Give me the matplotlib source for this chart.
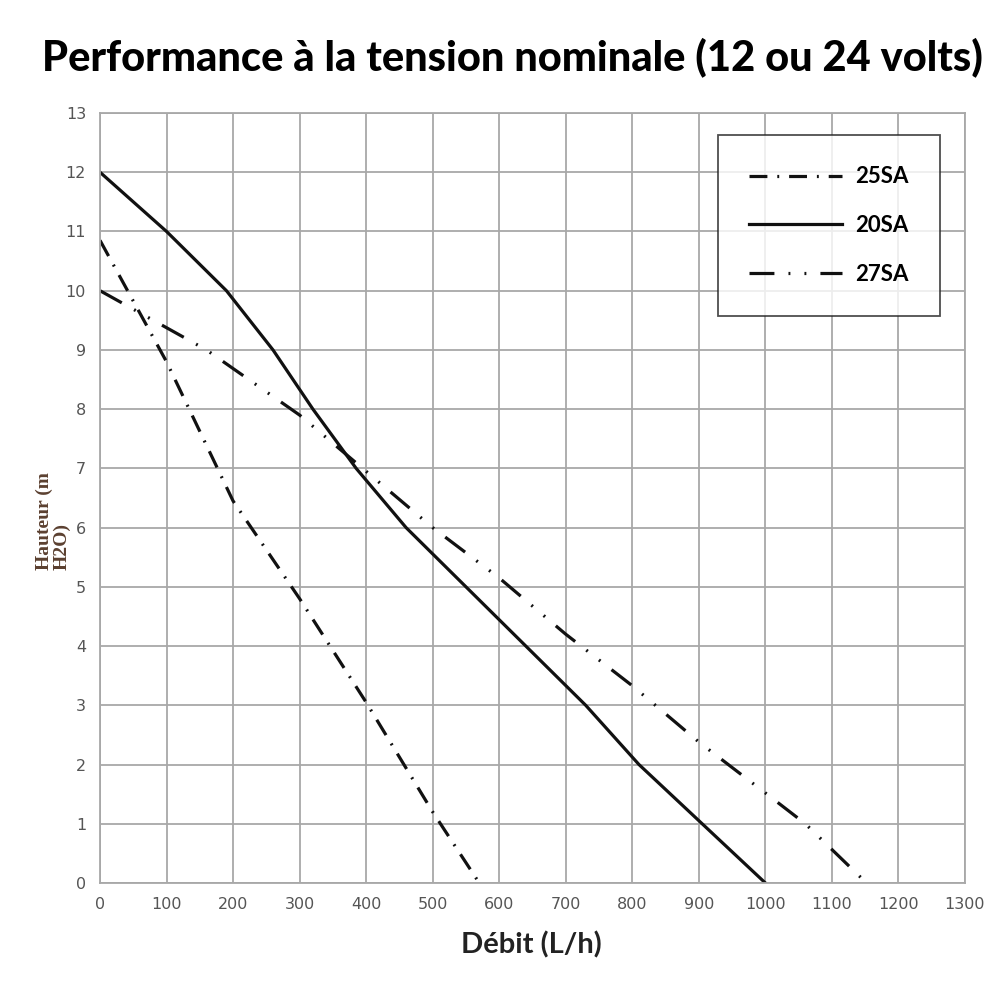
import matplotlib
matplotlib.use("Agg")
import matplotlib.pyplot as plt

# pump curves
debit_25sa = [0, 100, 200, 300, 400, 500, 570]
hauteur_25sa = [10.85, 8.8, 6.45, 4.8, 3.05, 1.2, 0]

debit_20sa = [0, 100, 190, 260, 320, 385, 460, 550, 640, 730, 810, 905, 1000]
hauteur_20sa = [12, 11, 10, 9, 8, 7, 6, 5, 4, 3, 2, 1, 0]

debit_27sa = [0, 160, 300, 500, 600, 700, 800, 900, 1000, 1060, 1152]
hauteur_27sa = [10, 9.0, 7.9, 6.0, 5.15, 4.2, 3.33, 2.38, 1.52, 1.0, 0]

xticks = list(range(0, 1301, 100))
yticks = list(range(0, 14))

fig = plt.figure(figsize=(10, 10), dpi=100)
ax = fig.add_axes([0.10, 0.117, 0.865, 0.770])

lw = 2.3
ax.plot(debit_25sa, hauteur_25sa, color="#111111", lw=lw,
        linestyle=(0, (5.6, 3.1, 0.6, 3.1)), label="25SA")
ax.plot(debit_20sa, hauteur_20sa, color="#111111", lw=lw, label="20SA")
ax.plot(debit_27sa, hauteur_27sa, color="#111111", lw=lw,
        linestyle=(0, (7.8, 4.4, 0.6, 4.4, 0.6, 4.4)), label="27SA")

ax.set_xlim(0, 1300)
ax.set_ylim(0, 13)
ax.set_xticks(xticks)
ax.set_yticks(yticks)
ax.grid(True, color="#a8a8a8", lw=1.3)
ax.set_axisbelow(True)
for s in ax.spines.values():
    s.set_color("#a8a8a8")
    s.set_linewidth(1.3)
ax.tick_params(length=0, pad=10, labelsize=11.5, colors="#555555")
for lab in ax.get_xticklabels() + ax.get_yticklabels():
    lab.set_family(["Liberation Sans Narrow", "DejaVu Sans"])

leg = ax.legend(loc="upper right", bbox_to_anchor=(0.971, 0.971),
                frameon=True, fancybox=False, handlelength=4.2,
                handletextpad=0.6, labelspacing=1.25, borderpad=1.4,
                borderaxespad=0, prop={"family": "Lato", "weight": "bold", "size": 16})
leg.get_frame().set_edgecolor("#222222")
leg.get_frame().set_linewidth(1.3)

fig.text(0.512, 0.943, "Performance à la tension nominale (12 ou 24 volts)",
         ha="center", va="center", fontsize=30, fontweight="black", family="Lato")
fig.text(0.531, 0.055, "Débit (L/h)", ha="center", va="center",
         fontsize=21, fontweight="bold", family="Lato", color="#222222")
fig.text(0.053, 0.43, "Hauteur (m\nH2O)", rotation=90, ha="center", va="bottom",
         multialignment="left", fontsize=14, fontweight="bold",
         family="Liberation Serif", color="#5b4030", linespacing=1.05)

fig.savefig("out.png", dpi=100, facecolor="white")
